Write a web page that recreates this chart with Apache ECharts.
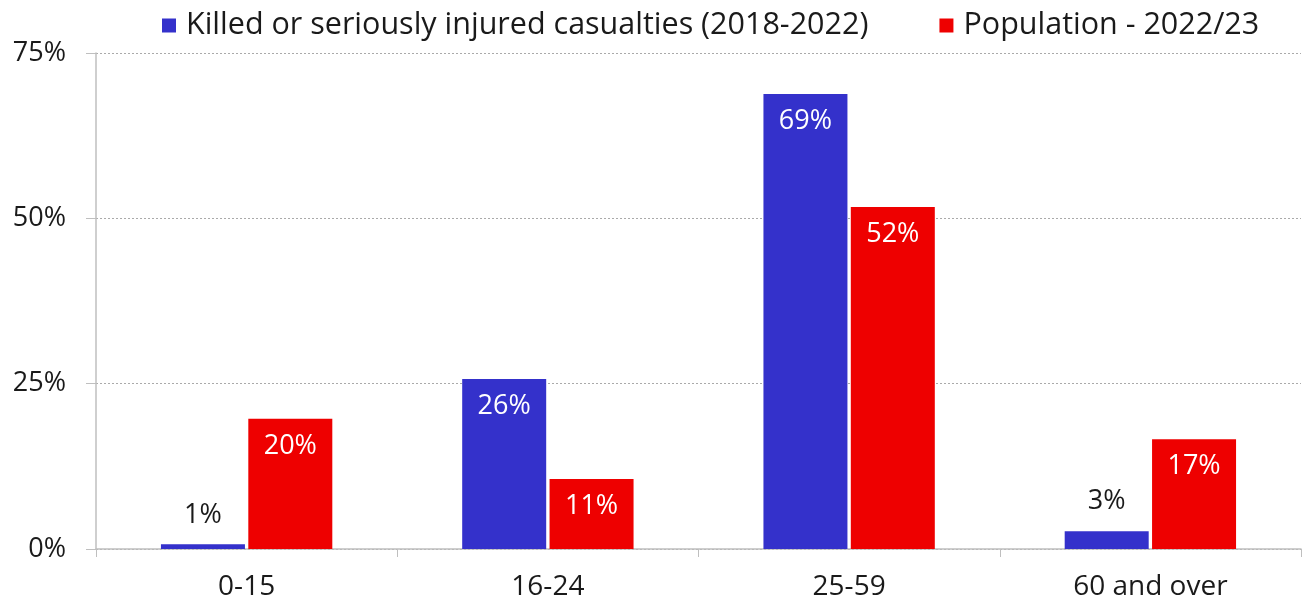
<!DOCTYPE html>
<html><head><meta charset="utf-8">
<script src="https://cdn.jsdelivr.net/npm/echarts@6/dist/echarts.min.js"></script>
<style>html,body{margin:0;padding:0;background:#fff}#c{width:1306px;height:603px}</style>
</head><body><div id="c"></div>
<script>
const categories = ['0-15', '16-24', '25-59', '60 and over'];
const ksiValues = [0.7, 25.7, 68.8, 2.7];
const popValues = [19.7, 10.6, 51.7, 16.6];
const seriesNames = ['Killed or seriously injured casualties (2018-2022)', 'Population - 2022/23'];
const yTicks = [0, 25, 50, 75];

const FONT = '"Open Sans", Lato, sans-serif';
const FS = 27;
const chart = echarts.init(document.getElementById('c'), null, {renderer: 'canvas'});

function labelFor(v) {
  const inside = v > 8;
  return {
    value: v,
    label: {
      show: true,
      position: inside ? 'insideTop' : 'top',
      distance: inside ? 14 : 16,
      color: inside ? '#ffffff' : '#1a1a1a',
      fontSize: FS,
      fontFamily: FONT,
      formatter: p => Math.round(p.value) + '%'
    }
  };
}

chart.setOption({
  animation: false,
  textStyle: {fontFamily: FONT},
  legend: {
    top: 5, left: 157,
    itemWidth: 14, itemHeight: 14, itemGap: 71,
    icon: 'rect',
    textStyle: {fontSize: 30.5, color: '#1a1a1a', fontFamily: FONT, padding: [0, 0, 0, 5]}
  },
  grid: {left: 96, right: 5, top: 53, bottom: 54, containLabel: false},
  xAxis: {
    type: 'category', data: categories,
    axisLine: {lineStyle: {color: '#bfbfbf', width: 1.5}},
    axisTick: {show: true, length: 8, lineStyle: {color: '#bfbfbf'}},
    axisLabel: {fontSize: 28, color: '#1a1a1a', margin: 24, fontFamily: FONT}
  },
  yAxis: {
    type: 'value', min: yTicks[0], max: yTicks[yTicks.length - 1], interval: 25,
    axisLine: {show: true, lineStyle: {color: '#bfbfbf', width: 1.5}},
    axisTick: {show: true, length: 10, lineStyle: {color: '#bfbfbf'}},
    axisLabel: {fontSize: FS, color: '#1a1a1a', margin: 30, fontFamily: FONT, formatter: v => v + '%'},
    splitLine: {show: true, lineStyle: {color: '#aaaaaa', type: [2, 2], width: 1}}
  },
  series: [
    {name: seriesNames[0], type: 'bar', barWidth: 84, barGap: '4%',
     itemStyle: {color: '#3431cb'}, data: ksiValues.map(labelFor)},
    {name: seriesNames[1], type: 'bar', barWidth: 84, barGap: '4%',
     itemStyle: {color: '#ee0000'}, data: popValues.map(labelFor)}
  ]
});
</script></body></html>
